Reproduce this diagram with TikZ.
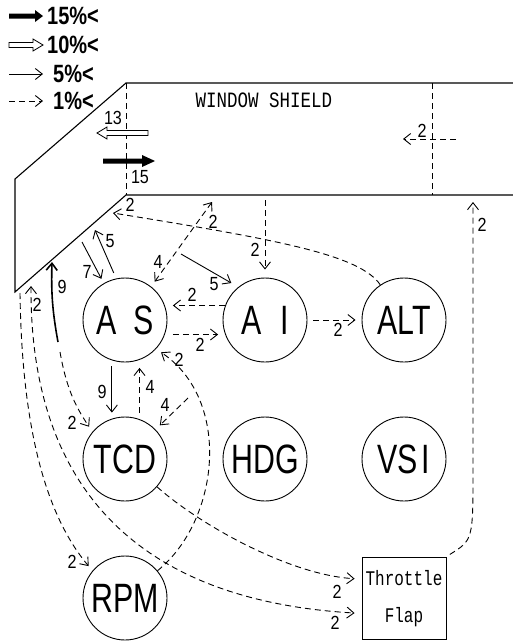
\documentclass[tikz,border=0pt]{standalone}
\usepackage{fontspec}
\setmainfont{Liberation Sans}
\setmonofont{Liberation Mono}
\usetikzlibrary{arrows.meta,calc}
\tikzset{
  circ/.style={circle, draw, line width=0.9pt, minimum size=84pt, inner sep=0pt, font=\fontsize{41}{41}\selectfont},
  num/.style={inner sep=0pt, font=\fontsize{19}{19}\selectfont},
  leg/.style={inner sep=0pt, anchor=west, font=\bfseries\fontsize{25}{25}\selectfont},
  sol/.style={line width=0.9pt, -{Straight Barb[length=7pt,width=11pt]}},
  dsh/.style={sol, dash pattern=on 6pt off 4pt},
  dd/.style={line width=0.9pt, dash pattern=on 6pt off 4pt, {Straight Barb[length=7pt,width=11pt]}-{Straight Barb[length=7pt,width=11pt]}},
  shield/.style={line width=1.1pt},
  hol/.style={line width=0.8pt, fill=white},
  blk/.style={fill=black},
}
\newcommand{\cx}[1]{\scalebox{0.74}[1]{#1}}
\newcommand{\nx}[1]{\scalebox{0.85}[1]{#1}}
\newcommand{\lx}[1]{\scalebox{0.8}[1]{#1}}
\begin{document}
\begin{tikzpicture}[x=1pt,y=-1pt]
\useasboundingbox (0,0) rectangle (513,641);

% ---------------- legend ----------------
\fill[blk] (9,13.5) -- (35,13.5) -- (35,10) -- (43,16) -- (35,22) -- (35,18.5) -- (9,18.5) -- cycle;
\node[leg] (t15) at (47,16) {\lx{15\%<}};
\draw[hol] (9,42.5) -- (33,42.5) -- (33,39) -- (43,45) -- (33,51) -- (33,47.5) -- (9,47.5) -- cycle;
\node[leg] (t10) at (47,45) {\lx{10\%<}};
\coordinate (lg5a) at (9,74);
\coordinate (lg5b) at (43,74);
\draw[sol] (lg5a) -- (lg5b);
\node[leg] (t5) at (53,74) {\lx{5\%<}};
\coordinate (lg1a) at (9,101);
\coordinate (lg1b) at (43,101);
\draw[dsh] (lg1a) -- (lg1b);
\node[leg] (t1) at (53,101) {\lx{1\%<}};

% ---------------- window shield ----------------
\draw[shield] (513,83) -- (126,83) -- (15,179) -- (15,292) -- (126,195) -- (513,195);
\draw[line width=0.9pt, dash pattern=on 6pt off 4pt] (126,83) -- (126,195);
\draw[line width=0.9pt, dash pattern=on 6pt off 4pt] (432,83) -- (432,195);
\node[inner sep=0pt, font=\ttfamily\fontsize{17.5}{17.5}\selectfont] (ws) at (264,100) {\scalebox{1}[1.25]{WINDOW SHIELD}};

\draw[hol] (148,130.5) -- (107,130.5) -- (107,127) -- (97,133) -- (107,139) -- (107,135.5) -- (148,135.5) -- cycle;
\node[num] (l13) at (113,118) {\nx{13}};
\fill[blk] (103,158.5) -- (142,158.5) -- (142,155) -- (155,161) -- (142,167) -- (142,163.5) -- (103,163.5) -- cycle;
\node[num] (l15) at (140,177) {\nx{15}};

\coordinate (w2a) at (456,139);
\coordinate (w2b) at (403,139);
\draw[dsh] (w2a) -- (w2b);
\node[num] (lw2) at (422,131) {\nx{2}};

% ---------------- instruments ----------------
\node[circ] (as) at (125,320) {\cx{A\hspace{0.55em}S}};
\node[circ] (ai) at (265,320) {\cx{A\hspace{0.6em}I}};
\node[circ] (alt) at (404,320) {\cx{ALT}};
\node[circ] (tcd) at (125,459) {\cx{TCD}};
\node[circ] (hdg) at (265,459) {\cx{HDG}};
\node[circ] (vsi) at (404,459) {\cx{VS\hspace{0.12em}I}};
\node[circ] (rpm) at (125,598) {\cx{RPM}};
\node[draw, line width=0.9pt, minimum width=84pt, minimum height=82pt, inner sep=0pt] (thr) at (404,598) {};
\node[inner sep=0pt, font=\ttfamily\fontsize{16}{16}\selectfont] (thr1) at (404,578) {\scalebox{1}[1.3]{Throttle}};
\node[inner sep=0pt, font=\ttfamily\fontsize{16}{16}\selectfont] (thr2) at (404,617) {\scalebox{1}[1.3]{Flap}};

% ---------------- free ends ----------------
\coordinate (sAlt) at (113,213);
\coordinate (sDbl) at (212,202);
\coordinate (sAi) at (265,200);
\coordinate (s5s) at (181,254);
\coordinate (s7) at (82,242);
\coordinate (s5e) at (95,230);
\coordinate (s9a) at (58,342);
\coordinate (s9b) at (52,262);
\coordinate (sTcd) at (60,352);
\coordinate (c4) at (188,398);
\coordinate (sThr) at (31,286);
\coordinate (sRpm) at (20,293);
\coordinate (sRt) at (473,202);
\coordinate (mRt) at (473,470);

% ---------------- connectors ----------------
\draw[dsh] (alt.124) .. controls (360,255) and (280,240) .. (sAlt);
\node[num] (la) at (130,205) {\nx{2}};

\draw[dd, shorten <=6pt] (as.52) -- (sDbl);
\node[num] (lb) at (213,222) {\nx{2}};
\node[num] (lc) at (158,262) {\nx{4}};

\draw[dsh, shorten >=8pt] (sAi) -- (ai.north);
\node[num] (ld) at (255,250) {\nx{2}};

\draw[sol, shorten >=8pt] (s5s) -- (ai.129);
\node[num] (le) at (214,284) {\nx{5}};

\draw[sol, shorten <=6pt] (as.102) -- (s5e);
\node[num] (lf) at (110,241) {\nx{5}};

\draw[sol, shorten >=5pt] (s7) -- (as.120);
\node[num] (lg) at (87,272) {\nx{7}};

\draw[sol, line width=1.6pt] (s9a) to[bend left=6] (s9b);
\node[num] (lh) at (62,287) {\nx{9}};

\draw[dsh, shorten >=6pt] (sTcd) to[bend right=12] (tcd.140);
\node[num] (lq) at (72,423) {\nx{2}};

\draw[dsh, shorten >=8pt] (ai.160) -- (as.20);
\node[num] (lj) at (192,295) {\nx{2}};
\draw[dsh, shorten <=8pt, shorten >=7pt] (as.-20) -- (ai.200);
\node[num] (lk) at (200,345) {\nx{2}};
\draw[dsh, shorten <=6pt, shorten >=6pt] (ai.east) -- (alt.west);
\node[num] (ll) at (338,330) {\nx{2}};

\draw[sol, shorten <=6pt, shorten >=6pt] (as.252) -- (tcd.108);
\node[num] (ln) at (102,392) {\nx{9}};
\draw[dsh, shorten <=6pt, shorten >=8pt] (tcd.70) -- (as.290);
\node[num] (lo) at (150,387) {\nx{4}};
\draw[dsh, shorten >=6pt] (c4) -- (tcd.44);
\node[num] (lp) at (165,405) {\nx{4}};

\draw[dsh, shorten >=6pt] (rpm.40) .. controls (220,520) and (232,400) .. (as.-43);
\node[num] (lm) at (179,360) {\nx{2}};

\draw[dsh, shorten >=7pt] (tcd.-41) .. controls (200,525) and (290,575) .. (thr.156);
\node[num] (ls) at (337,592) {\nx{2}};

\draw[dd, shorten >=7pt] (sThr) .. controls (30,480) and (130,600) .. (thr.200);
\node[num] (li) at (37,305) {\nx{2}};
\node[num] (lt) at (335,623) {\nx{2}};

\draw[dsh, shorten >=6pt] (sRpm) .. controls (22,440) and (50,520) .. (rpm.140);
\node[num] (lr) at (72,562) {\nx{2}};

\draw[dsh, shorten <=4pt] (thr.north east) .. controls (473,540) .. (mRt) -- (sRt);
\node[num] (lu) at (482,225) {\nx{2}};
\end{tikzpicture}
\end{document}
